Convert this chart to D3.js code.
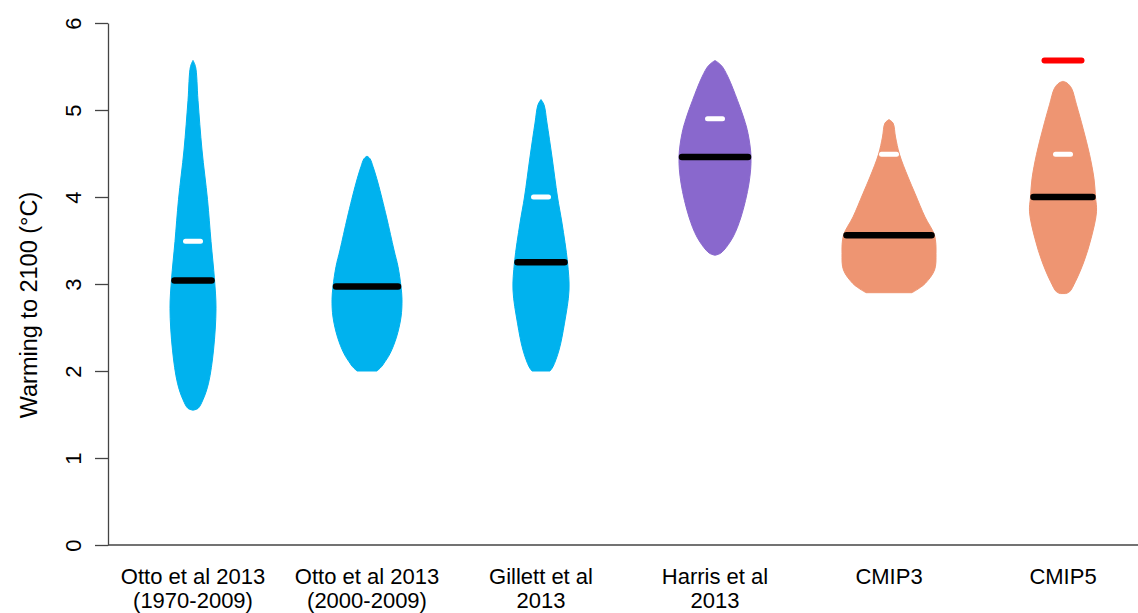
<!DOCTYPE html>
<html>
<head>
<meta charset="utf-8">
<script src="https://cdn.jsdelivr.net/npm/d3@7"></script>
<style>
  html, body { margin: 0; padding: 0; background: #ffffff; }
  svg { display: block; font-family: "Liberation Sans", Arial, sans-serif; }
</style>
</head>
<body>
<svg id="chart" width="1138" height="613"></svg>
<script>
// ---------------- data ----------------
const categories = ["Otto1970", "Otto2000", "Gillett", "Harris", "CMIP3", "CMIP5"];
const labelLine1 = ["Otto et al 2013", "Otto et al 2013", "Gillett et al", "Harris et al", "CMIP3", "CMIP5"];
const labelLine2 = ["(1970-2009)", "(2000-2009)", "2013", "2013", "", ""];
const groups = ["obs", "obs", "obs", "harris", "model", "model"];
const medians = [3.04, 2.97, 3.25, 4.46, 3.56, 4.0];
const whiteMarks = [3.49, null, 4.0, 4.9, 4.49, 4.49];
const redMarks = [null, null, null, null, null, 5.57];
const yTicks = [0, 1, 2, 3, 4, 5, 6];
const yLabel = "Warming to 2100 (\u00B0C)";

// density profiles: [warming value, relative density]
const densOtto1970 = [[1.55,0],[1.57,0.10],[1.67,0.20],[1.86,0.31],[2.24,0.41],[2.72,0.46],[3.05,0.43],[3.49,0.36],[3.97,0.29],[4.54,0.18],[5.11,0.10],[5.5,0.05],[5.57,0]];
const densOtto2000 = [[2.0,0.20],[2.05,0.29],[2.09,0.34],[2.2,0.46],[2.39,0.59],[2.62,0.68],[2.82,0.70],[2.97,0.68],[3.2,0.62],[3.39,0.54],[3.77,0.39],[4.16,0.22],[4.35,0.12],[4.44,0.06],[4.47,0]];
const densGillett = [[2.0,0.18],[2.05,0.24],[2.24,0.36],[2.55,0.47],[2.93,0.56],[3.25,0.53],[3.7,0.42],[4.0,0.33],[4.46,0.22],[4.85,0.12],[5.06,0.06],[5.12,0]];
const densHarris = [[3.33,0],[3.35,0.10],[3.39,0.18],[3.54,0.36],[3.77,0.52],[4.16,0.68],[4.46,0.72],[4.73,0.66],[4.9,0.58],[5.11,0.45],[5.38,0.26],[5.51,0.13],[5.57,0]];
const densCMIP3 = [[2.9,0.46],[2.95,0.60],[3.01,0.73],[3.16,0.91],[3.35,0.94],[3.56,0.91],[3.77,0.72],[4.04,0.52],[4.23,0.38],[4.49,0.21],[4.69,0.13],[4.85,0.08],[4.89,0]];
const densCMIP5 = [[2.89,0.05],[2.91,0.13],[3.03,0.25],[3.26,0.42],[3.52,0.56],[3.83,0.67],[4.0,0.65],[4.21,0.62],[4.49,0.53],[4.79,0.40],[5.06,0.27],[5.25,0.17],[5.31,0.08],[5.33,0]];
const densities = [densOtto1970, densOtto2000, densGillett, densHarris, densCMIP3, densCMIP5];

// ---------------- styles ----------------
const palette = { obs: "#00B2EE", harris: "#8968CD", model: "#EE9572" };
const FONT = 22;

// ---------------- scales ----------------
const svg = d3.select("#chart");
const x = d3.scalePoint().domain(categories).range([193, 1063]);
const y = d3.scaleLinear().domain([0, 6]).range([545, 23]);
const w = d3.scaleLinear().domain([0, 1]).range([0, 50]);
const axisX = 108;

function densAt(dens, v) {
  for (let i = 0; i < dens.length - 1; i++) {
    const a = dens[i], b = dens[i + 1];
    if (v >= a[0] && v <= b[0]) {
      const t = (v - a[0]) / (b[0] - a[0]);
      return a[1] + t * (b[1] - a[1]);
    }
  }
  return 0;
}

// ---------------- violins ----------------
const g = svg.append("g");
categories.forEach((c, i) => {
  const cx = x(c);
  const area = d3.area()
    .y(d => y(d[0]))
    .x0(d => cx - w(d[1]))
    .x1(d => cx + w(d[1]))
    .curve(d3.curveCatmullRom.alpha(0.5));
  g.append("path")
    .attr("d", area(densities[i]))
    .attr("fill", palette[groups[i]])
    .attr("stroke", palette[groups[i]])
    .attr("stroke-width", 1);

  const hw = w(densAt(densities[i], medians[i])) - 3;
  g.append("line")
    .attr("x1", cx - hw).attr("x2", cx + hw)
    .attr("y1", y(medians[i])).attr("y2", y(medians[i]))
    .attr("stroke", "#000").attr("stroke-width", 6.5).attr("stroke-linecap", "round");

  if (whiteMarks[i] != null) {
    g.append("line")
      .attr("x1", cx - 7.5).attr("x2", cx + 7.5)
      .attr("y1", y(whiteMarks[i])).attr("y2", y(whiteMarks[i]))
      .attr("stroke", "#fff").attr("stroke-width", 5).attr("stroke-linecap", "round");
  }
  if (redMarks[i] != null) {
    g.append("line")
      .attr("x1", cx - 18.5).attr("x2", cx + 18.5)
      .attr("y1", y(redMarks[i])).attr("y2", y(redMarks[i]))
      .attr("stroke", "#FF0000").attr("stroke-width", 6).attr("stroke-linecap", "round");
  }
});

// ---------------- axes ----------------
const yAxis = d3.axisLeft(y).tickValues(yTicks).tickFormat(d3.format("d")).tickSize(13).tickSizeOuter(0);
const ya = svg.append("g").attr("transform", `translate(${axisX},0)`).call(yAxis);
ya.select(".domain").attr("stroke", "#444").attr("stroke-width", 1.3);
ya.selectAll(".tick line").attr("stroke", "#444").attr("stroke-width", 1.3);
ya.selectAll(".tick text")
  .attr("x", null).attr("dy", "0.35em")
  .attr("transform", "translate(-35,0) rotate(-90)")
  .attr("text-anchor", "middle")
  .attr("font-size", FONT)
  .attr("font-family", "Liberation Sans, Arial, sans-serif")
  .attr("fill", "#000");

// bottom frame line
svg.append("line")
  .attr("x1", axisX).attr("x2", 1138)
  .attr("y1", y(0)).attr("y2", y(0))
  .attr("stroke", "#444").attr("stroke-width", 1.3);

// y label
svg.append("text")
  .attr("transform", `translate(29,305) rotate(-90)`)
  .attr("dy", "0.35em")
  .attr("text-anchor", "middle")
  .attr("font-size", 23.5)
  .attr("fill", "#000")
  .text(yLabel);

// category labels
const lab = svg.append("g").attr("font-size", FONT).attr("text-anchor", "middle").attr("fill", "#000");
categories.forEach((c, i) => {
  lab.append("text").attr("x", x(c)).attr("y", 584).text(labelLine1[i]);
  if (labelLine2[i]) lab.append("text").attr("x", x(c)).attr("y", 608).text(labelLine2[i]);
});
</script>
</body>
</html>
